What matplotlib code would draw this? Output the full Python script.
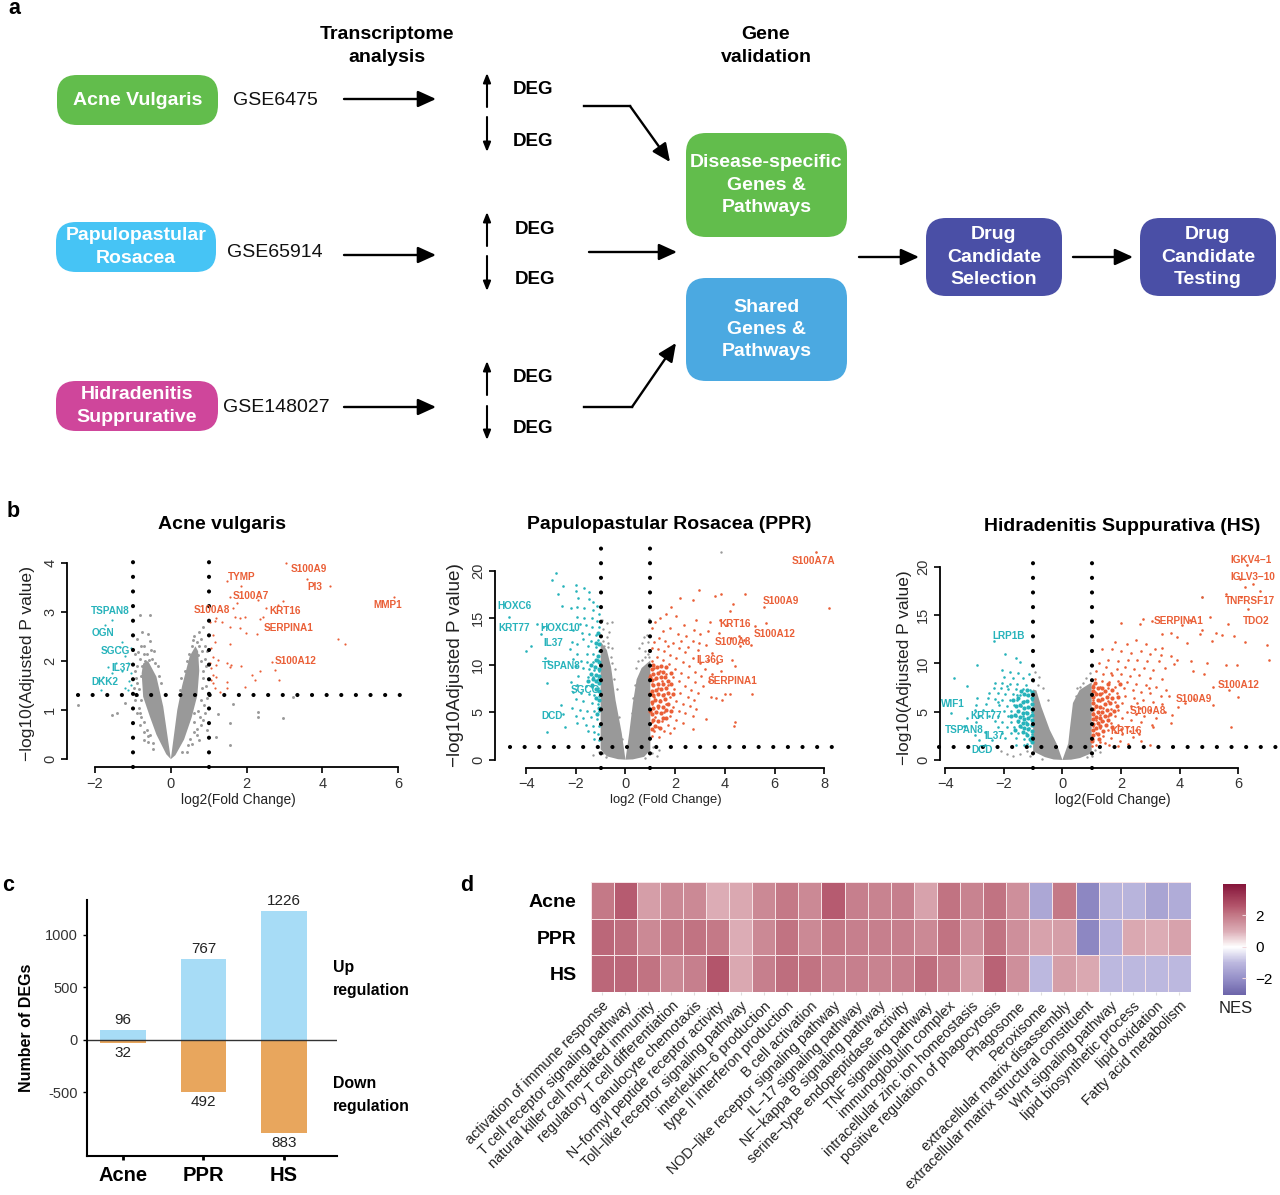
import matplotlib
matplotlib.use('Agg')
import matplotlib.pyplot as plt
import numpy as np
from matplotlib.colors import LinearSegmentedColormap, Normalize
from matplotlib.patches import FancyBboxPatch

plt.rcParams['font.family'] = ['Liberation Sans', 'DejaVu Sans']

W, H = 1280, 1195
RED = '#ea5f37'
CYAN = '#27b3bb'
GRAY = '#999999'

# ---- panel b data (log2FC, -log10 p)
acne_red = [(3.03, 4.0), (3.6, 3.67), (4.2, 3.52), (5.9, 3.31), (1.49, 3.62), (1.86, 3.53), (1.56, 3.31), (1.75, 3.18),
            (1.64, 3.07), (2.95, 3.22), (2.83, 3.14), (2.3, 3.24), (2.5, 3.07), (2.44, 2.89), (2.35, 2.85), (1.95, 2.89),
            (1.82, 2.87), (1.69, 2.89), (1.2, 2.87), (1.16, 2.82), (1.03, 2.8), (1.34, 2.8), (1.56, 2.7), (1.82, 2.67),
            (1.98, 2.58), (2.28, 2.56), (4.4, 2.44), (4.59, 2.35), (1.12, 2.53), (1.16, 2.39), (1.56, 2.35), (1.07, 2.26),
            (1.12, 2.09), (1.25, 2.02), (1.03, 1.95), (1.2, 1.92), (1.47, 1.95), (1.56, 1.88), (1.86, 1.9), (2.68, 1.97),
            (2.74, 1.82), (2.35, 1.8), (2.13, 1.71), (1.12, 1.71), (1.05, 1.61), (1.47, 1.58), (2.86, 1.61), (1.95, 1.48),
            (1.47, 1.44), (1.16, 1.44), (1.29, 1.37), (1.1, 1.55), (1.06, 1.85), (1.6, 1.92), (2.22, 1.62), (1.18, 1.68)]
acne_cyan = [(-1.56, 2.84), (-1.74, 2.73), (-1.28, 2.39), (-1.35, 2.29), (-1.04, 2.26), (-1.65, 1.88), (-1.45, 1.95),
             (-1.13, 1.95), (-1.79, 1.68), (-1.04, 1.75), (-1.21, 1.44), (-1.12, 1.4), (-1.83, 1.41), (-1.04, 1.51),
             (-1.1, 1.6), (-1.3, 1.8), (-1.55, 1.75), (-1.2, 2.1)]
acne_gray = [(2.3, 0.97), (2.3, 0.86), (2.96, 0.83), (1.64, 1.12), (1.25, 0.93), (1.56, 0.73), (1.2, 0.46), (1.56, 0.29),
             (3.23, 1.27), (-2.44, 1.1), (-1.56, 0.9), (-1.42, 0.95), (-1.2, 1.15), (-0.82, 2.94), (-0.55, 2.94),
             (-0.75, 2.6), (-0.6, 2.55), (-0.9, 2.45), (-0.8, 2.3), (-0.55, 2.4), (-0.45, 2.2), (-0.95, 2.15), (-0.7, 2.15),
             (-0.5, 2.05), (-0.95, 1.8), (-0.88, 1.55), (-0.95, 1.2), (-0.9, 0.95), (-0.82, 0.7), (-0.7, 0.55), (-0.6, 0.35),
             (-0.85, 1.05), (-0.72, 0.4), (-0.48, 0.2), (0.75, 2.6), (0.62, 2.5), (0.85, 2.7), (0.8, 2.45), (0.9, 2.3),
             (0.55, 2.3), (0.9, 2.05), (0.85, 1.8), (0.92, 1.5), (0.95, 1.25), (0.9, 0.95), (0.8, 0.7), (0.68, 0.5), (0.55, 0.3),
             (0.75, 0.4), (0.95, 0.6), (0.42, 0.15), (-0.35, 1.9), (-0.25, 1.55), (0.42, 2.0), (0.28, 1.65), (0.62, 0.95),
             (-0.82, 2.05), (-0.88, 1.9), (-0.8, 1.7), (-0.92, 1.65), (-0.84, 1.42), (-0.78, 1.2), (-0.9, 1.3), (-0.82, 0.95),
             (-0.72, 0.75), (-0.64, 0.6), (-0.55, 0.5), (-0.8, 0.85), (-0.62, 2.15), (-0.52, 2.22), (-0.72, 2.3), (-0.86, 2.18),
             (-0.68, 2.0), (-0.58, 2.02), (-0.98, 1.45), (-0.75, 1.9), (-0.42, 1.95), (-0.3, 1.7), (-0.48, 0.32), (-0.6, 0.48),
             (0.82, 2.2), (0.75, 2.3), (0.68, 2.38), (0.58, 2.42), (0.8, 2.0), (0.72, 2.12), (0.86, 1.65), (0.82, 1.45), (0.8, 1.2),
             (0.88, 1.1), (0.72, 0.98), (0.78, 0.85), (0.62, 0.75), (0.6, 0.55), (0.5, 0.42), (0.85, 0.8), (0.92, 1.9), (0.96, 2.2),
             (0.7, 0.62), (0.48, 2.15), (0.38, 1.8), (0.25, 1.4), (0.45, 0.28), (0.3, 0.15)]
acne_left_x = [0, -0.2, -0.38, -0.6, -0.73, -0.77, -0.73, -0.55, -0.38, -0.12]
acne_left_y = [0, 1.07, 1.68, 2.0, 1.95, 1.75, 1.27, 0.86, 0.5, 0.1]
acne_right_x = [0, 0.17, 0.3, 0.5, 0.65, 0.72, 0.75, 0.7, 0.55, 0.35, 0.12]
acne_right_y = [0, 1.0, 1.5, 2.1, 2.3, 2.2, 1.8, 1.3, 0.85, 0.4, 0.08]
acne_labels_red = [('S100A9', 3.63, 3.88), ('TYMP', 1.86, 3.71), ('PI3', 3.8, 3.5), ('S100A7', 2.1, 3.33), ('MMP1', 5.71, 3.14),
                   ('S100A8', 1.08, 3.03), ('KRT16', 3.01, 3.01), ('SERPINA1', 3.12, 2.68), ('S100A12', 3.29, 2.0)]
acne_labels_cyan = [('TSPAN8', -1.6, 3.01), ('OGN', -1.8, 2.58), ('SGCG', -1.45, 2.2), ('IL37', -1.3, 1.85), ('DKK2', -1.74, 1.58)]

ppr_red = [(7.68, 22), (8.18, 16), (5.56, 16.2), (5.67, 14.5), (5.2, 14.1), (4.33, 16.5), (4.8, 17.5), (3.83, 17.5),
           (3.59, 17.3), (2.96, 18), (2.72, 16.9), (2.2, 17.1), (4.2, 15.7), (3.8, 14.8), (3.4, 14.6), (2.85, 14.8),
           (4.1, 14.2), (4.55, 13.1), (5.05, 12.1), (4.25, 12.9), (3.75, 13.4), (3.3, 13.6), (3.0, 13.3), (2.75, 13.7),
           (2.35, 14.3), (2.05, 15.2), (1.85, 16.2), (1.65, 15.4), (1.4, 15.0), (1.2, 14.6), (1.05, 13.9), (1.5, 13.6),
           (1.8, 13.9), (2.1, 13.3), (2.45, 13.1), (2.7, 12.6), (2.95, 12.3), (3.25, 12.1), (3.5, 11.3), (4.3, 10.5),
           (4.4, 9.9), (3.85, 9.4), (3.5, 9.1), (3.2, 9.6), (3.0, 10.2), (2.7, 10.8), (2.4, 11.4), (2.15, 11.8), (1.9, 12.3),
           (1.6, 12.6), (1.35, 12.9), (1.15, 12.5), (1.05, 11.8), (1.3, 11.7), (1.55, 11.5), (1.8, 11.1), (2.05, 10.8),
           (2.3, 10.3), (2.55, 9.9), (2.8, 9.3), (3.05, 8.9), (3.35, 8.3), (2.8, 8.2), (2.5, 8.8), (2.25, 9.2), (2.0, 9.6),
           (1.75, 10.1), (1.5, 10.6), (1.25, 10.9), (1.05, 10.4), (1.15, 9.7), (1.4, 9.4), (1.65, 9.1), (1.9, 8.7),
           (2.15, 8.3), (2.4, 7.8), (2.65, 7.4), (2.9, 7.1), (2.75, 6.3), (2.5, 6.6), (2.2, 7.1), (1.95, 7.5), (1.7, 7.9),
           (1.45, 8.3), (1.2, 8.5), (1.05, 8.0), (1.3, 7.6), (1.55, 7.0), (1.8, 6.6), (2.05, 6.2), (2.3, 5.9), (2.6, 5.7),
           (2.85, 5.4), (2.7, 4.6), (2.4, 4.9), (2.15, 5.2), (1.9, 5.6), (1.65, 5.9), (1.4, 6.3), (1.15, 6.6), (1.05, 5.9),
           (1.3, 5.5), (1.55, 5.0), (1.8, 4.6), (2.05, 4.2), (2.3, 3.9), (1.95, 3.4), (1.7, 3.7), (1.45, 4.1), (1.2, 4.5),
           (1.05, 4.0), (1.3, 3.5), (1.55, 3.0), (1.8, 2.8), (1.15, 3.0), (1.05, 2.5), (1.35, 2.4), (2.7, 3.2), (3.25, 4.3),
           (4.35, 3.6), (4.4, 3.95), (5.1, 7.0), (4.2, 6.9), (4.0, 6.9), (3.9, 6.3), (3.65, 6.5), (3.45, 6.6), (3.1, 7.8),
           (2.5, 11.9), (2.9, 11.6), (3.3, 10.6), (3.7, 10.2), (1.0, 9.0), (1.7, 12.0), (2.25, 12.6), (4.6, 12.0), (4.75, 12.7)]
ppr_red_core = [(1.05, 3.2), (1.2, 3.6), (1.4, 3.3), (1.1, 4.2), (1.3, 4.1), (1.5, 4.4), (1.05, 4.8), (1.22, 5.0), (1.42, 4.9), (1.62, 5.3),
                (1.1, 5.5), (1.3, 5.7), (1.5, 5.6), (1.72, 5.9), (1.05, 6.1), (1.2, 6.3), (1.4, 6.2), (1.6, 6.4), (1.1, 6.8), (1.3, 6.9),
                (1.5, 6.8), (1.7, 7.1), (1.05, 7.3), (1.22, 7.4), (1.42, 7.5), (1.62, 7.6), (1.12, 7.9), (1.3, 8.0), (1.5, 8.0), (1.72, 8.3),
                (1.05, 8.4), (1.22, 8.6), (1.42, 8.7), (1.6, 8.8), (1.12, 9.1), (1.32, 9.2), (1.52, 9.3), (1.05, 9.6), (1.25, 9.8), (1.42, 9.9),
                (1.1, 10.0), (1.65, 9.8), (1.85, 9.2), (1.85, 8.0), (1.9, 6.9), (1.82, 5.2), (1.65, 4.4), (1.0, 5.2), (1.0, 7.0), (1.0, 8.8)]
ppr_cyan = [(-2.8, 19.8), (-2.95, 19.0), (-2.5, 18.4), (-2.0, 18.5), (-2.0, 17.9), (-1.65, 18.2), (-1.45, 17.7), (-2.7, 17.5),
            (-1.9, 17.1), (-1.45, 17.0), (-1.3, 16.7), (-1.15, 16.3), (-2.55, 16.3), (-2.2, 16.0), (-1.95, 16.2), (-1.65, 16.1),
            (-1.3, 15.8), (-1.05, 15.4), (-4.7, 15.1), (-1.95, 15.1), (-1.65, 15.0), (-1.35, 15.0), (-1.15, 14.7), (-3.55, 14.4),
            (-3.3, 14.0), (-1.85, 14.4), (-1.6, 14.2), (-1.35, 14.0), (-1.05, 14.0), (-3.4, 13.3), (-2.1, 13.7), (-1.75, 13.4),
            (-1.45, 13.3), (-1.2, 13.2), (-1.7, 12.8), (-1.4, 12.6), (-1.1, 12.7), (-2.15, 12.4), (-1.95, 12.2), (-1.5, 12.0),
            (-1.2, 11.9), (-3.8, 12.0), (-4.0, 11.5), (-2.25, 11.7), (-1.95, 11.2), (-1.55, 11.2), (-1.3, 11.2), (-1.05, 11.5),
            (-3.25, 10.8), (-3.1, 10.4), (-2.1, 10.7), (-1.8, 10.4), (-1.55, 10.3), (-1.3, 10.3), (-1.1, 10.5), (-2.0, 9.9),
            (-1.7, 9.7), (-1.45, 9.6), (-1.25, 9.5), (-1.05, 9.4), (-3.15, 8.1), (-1.9, 8.9), (-1.5, 8.8), (-1.3, 8.7), (-1.1, 8.5),
            (-2.2, 8.2), (-1.95, 7.9), (-1.6, 7.8), (-1.35, 7.7), (-1.1, 7.6), (-2.1, 7.2), (-1.8, 7.1), (-1.45, 6.9), (-1.25, 6.8),
            (-1.05, 6.7), (-2.6, 5.8), (-2.0, 6.4), (-1.7, 6.2), (-1.35, 6.0), (-1.1, 5.9), (-2.15, 5.5), (-1.85, 5.3), (-1.55, 5.2),
            (-1.25, 5.1), (-1.05, 5.2), (-2.5, 4.8), (-2.0, 4.6), (-1.7, 4.4), (-1.4, 4.5), (-1.15, 4.3), (-2.45, 3.5), (-3.15, 2.9),
            (-1.95, 3.9), (-1.6, 3.7), (-1.3, 3.6), (-1.05, 3.6), (-1.5, 3.0), (-1.25, 2.9), (-1.1, 2.7), (-1.25, 2.2), (-1.05, 2.1)]
ppr_cyan_core = [(-1.05, 7.3), (-1.2, 7.5), (-1.35, 7.9), (-1.05, 8.1), (-1.18, 8.3), (-1.32, 8.5), (-1.5, 8.3), (-1.05, 8.9), (-1.2, 9.0),
                 (-1.38, 9.1), (-1.08, 9.6), (-1.22, 9.8), (-1.4, 10.0), (-1.05, 10.3), (-1.2, 10.6), (-1.1, 11.0), (-1.05, 6.3), (-1.2, 6.5),
                 (-1.05, 5.5), (-1.15, 4.8), (-1.05, 12.2), (-1.18, 12.3), (-1.1, 13.4)]
ppr_gray = [(3.86, 22), (-0.95, 14.8), (-0.75, 14.5), (-0.9, 13.8), (-0.65, 13.5), (-0.55, 14.6), (-0.98, 13.1), (-0.75, 13.0),
            (-0.7, 12.3), (-0.9, 12.6), (0.75, 13.0), (0.85, 13.2), (0.65, 12.3), (0.95, 14.9), (0.9, 12.5), (0.55, 11.8),
            (0.78, 11.5), (0.92, 11.2), (-0.55, 11.8), (-0.6, 10.9), (-0.42, 9.6), (0.42, 9.7), (0.5, 10.4), (-1.05, 0.8),
            (-1.3, 0.5), (-0.8, 0.3), (1.05, 0.7), (1.25, 0.4), (1.35, 1.0), (0.8, 0.2), (-0.35, 7.5), (0.3, 6.5),
            (-0.85, 12.0), (-0.7, 11.9), (-0.95, 11.6), (0.8, 10.9), (0.65, 10.6), (0.95, 10.9), (-0.55, 10.2), (-0.48, 8.5),
            (0.38, 7.9), (0.28, 4.9), (-0.28, 4.5), (-0.15, 2.2), (0.14, 2.0), (-1.1, 1.3), (1.12, 1.3), (-0.9, 0.7)]
ppr_left_x = [0, -0.15, -0.4, -0.58, -0.75, -1, -1, -0.75, -0.3]
ppr_left_y = [0, 2.8, 6.3, 9.8, 11.6, 12.5, 1.1, 0.35, 0.05]
ppr_right_x = [0, 0.15, 0.3, 0.45, 0.65, 1, 1, 0.75, 0.3]
ppr_right_y = [0, 2.8, 6, 8.5, 9.7, 10.5, 1.0, 0.3, 0.03]
ppr_labels_red = [('S100A7A', 7.55, 21.06), ('S100A9', 6.26, 16.8), ('KRT16', 4.42, 14.4), ('S100A12', 6.0, 13.26),
                  ('S100A8', 4.34, 12.5), ('IL36G', 3.4, 10.5), ('SERPINA1', 4.29, 8.36)]
ppr_labels_cyan = [('HOXC6', -4.46, 16.3), ('KRT77', -4.46, 13.9), ('HOXC10', -2.64, 13.9), ('IL37', -2.9, 12.35),
                   ('TSPAN8', -2.57, 9.95), ('SGCG', -1.62, 7.34), ('DCD', -2.96, 4.62)]

hs_red = [(6.3, 20.2), (6.05, 18.7), (6.5, 18.2), (6.25, 17.9), (6.75, 17.5), (5.6, 17.2), (6.1, 16.9), (4.75, 16.9),
          (6.35, 15.6), (5.05, 14.8), (5.65, 14.1), (4.35, 14.5), (2.75, 14.6), (3.05, 14.4), (2.0, 14.2), (2.65, 14.1),
          (4.1, 14.0), (4.75, 13.5), (5.25, 13.1), (5.45, 12.9), (5.85, 12.8), (6.25, 12.2), (5.1, 12.3), (4.7, 13.0),
          (3.7, 13.1), (3.4, 13.0), (3.9, 12.7), (4.25, 12.1), (2.5, 12.4), (2.85, 12.0), (3.4, 11.6), (3.15, 11.5), (2.2, 12.0),
          (1.8, 12.2), (1.35, 11.5), (1.7, 11.5), (2.0, 11.3), (2.35, 11.1), (2.7, 11.3), (3.0, 11.0), (3.35, 10.9), (7.0, 11.9),
          (7.05, 10.4), (5.6, 9.8), (5.95, 9.8), (4.95, 10.0), (4.4, 10.2), (3.9, 10.4), (3.7, 10.8), (3.3, 10.2), (2.9, 10.2),
          (2.55, 10.4), (2.25, 10.3), (1.9, 10.2), (1.55, 10.4), (1.25, 10.0), (1.5, 9.6), (1.85, 9.4), (2.15, 9.6), (2.45, 9.4),
          (2.8, 9.5), (3.1, 9.3), (3.5, 9.5), (3.8, 9.9), (4.45, 9.2), (4.85, 8.9), (1.15, 9.2), (1.4, 8.9), (1.7, 8.8), (2.0, 8.9),
          (2.3, 8.7), (2.6, 8.8), (3.0, 8.5), (3.4, 8.4), (1.1, 8.4), (1.35, 8.2), (1.6, 8.1), (1.9, 8.2), (2.2, 8.1), (2.5, 7.9),
          (2.85, 7.8), (3.2, 7.6), (3.55, 7.2), (5.15, 7.6), (5.7, 7.2), (6.0, 6.5), (1.05, 7.8), (1.3, 7.6), (1.55, 7.5), (1.8, 7.6),
          (2.1, 7.4), (2.4, 7.2), (2.7, 7.0), (3.0, 6.9), (3.35, 6.6), (3.65, 6.6), (4.5, 6.3), (5.15, 5.7), (4.2, 5.9), (3.95, 5.5),
          (1.1, 7.0), (1.35, 6.9), (1.6, 6.8), (1.85, 6.9), (2.15, 6.6), (2.45, 6.4), (2.75, 6.2), (3.1, 6.0), (3.4, 5.8), (1.05, 6.2),
          (1.3, 6.1), (1.55, 6.1), (1.8, 6.0), (2.05, 5.9), (2.35, 5.6), (2.65, 5.4), (3.0, 5.2), (3.5, 5.0), (3.75, 4.7), (1.15, 5.5),
          (1.4, 5.4), (1.65, 5.3), (1.9, 5.2), (2.2, 5.0), (2.5, 4.8), (2.8, 4.5), (3.2, 4.3), (1.05, 4.9), (1.3, 4.7), (1.55, 4.6),
          (1.8, 4.5), (2.05, 4.3), (2.35, 4.1), (2.7, 3.9), (3.05, 3.6), (3.7, 3.8), (5.75, 3.4), (1.15, 4.1), (1.4, 4.0), (1.65, 3.8),
          (1.9, 3.6), (2.2, 3.4), (2.5, 3.1), (3.1, 3.4), (1.05, 3.5), (1.3, 3.3), (1.55, 3.1), (1.8, 2.9), (2.05, 2.7), (2.4, 2.4),
          (2.7, 2.0), (1.15, 2.8), (1.4, 2.5), (1.65, 2.3), (1.95, 2.0), (2.25, 1.7), (3.0, 1.6), (1.05, 2.2), (1.3, 1.9), (1.6, 1.6),
          (1.15, 1.5), (1.9, 1.45), (1.0, 1.4), (1.45, 1.75), (2.3, 3.0), (2.6, 2.7), (2.0, 3.2), (2.55, 5.9), (2.95, 7.4), (1.65, 9.0)]
hs_red_core = [(1.05, 2.6), (1.2, 2.7), (1.38, 3.0), (1.04, 3.1), (1.16, 3.3), (1.3, 3.5), (1.48, 3.6), (1.05, 3.7), (1.2, 3.8), (1.36, 4.0),
               (1.55, 4.1), (1.04, 4.2), (1.16, 4.4), (1.3, 4.3), (1.46, 4.6), (1.62, 4.8), (1.05, 4.8), (1.2, 5.0), (1.36, 5.0), (1.52, 5.2),
               (1.04, 5.3), (1.16, 5.6), (1.3, 5.5), (1.46, 5.8), (1.62, 5.9), (1.05, 5.9), (1.2, 6.2), (1.36, 6.3), (1.52, 6.5), (1.04, 6.5),
               (1.16, 6.8), (1.3, 6.8), (1.46, 7.1), (1.05, 7.1), (1.2, 7.4), (1.36, 7.5), (1.04, 7.6), (1.7, 6.4), (1.75, 5.1), (1.7, 7.2),
               (1.12, 8.0), (1.55, 7.9), (1.25, 2.2), (1.0, 2.0), (1.7, 3.4), (1.85, 5.6), (1.9, 6.5), (1.95, 7.9)]
hs_cyan = [(-2.33, 12.3), (-1.95, 11.0), (-1.6, 10.6), (-1.45, 10.1), (-2.9, 9.8), (-2.05, 9.3), (-1.8, 9.1), (-1.5, 9.0),
           (-1.15, 8.9), (-3.7, 8.5), (-2.0, 8.6), (-1.7, 8.5), (-1.35, 8.5), (-1.05, 8.3), (-3.25, 7.7), (-2.3, 8.0), (-2.05, 8.0),
           (-1.8, 7.9), (-1.55, 7.9), (-1.25, 7.8), (-2.35, 7.4), (-2.1, 7.4), (-1.85, 7.3), (-1.6, 7.3), (-1.35, 7.3), (-1.1, 7.2),
           (-2.5, 6.9), (-2.2, 6.9), (-1.95, 6.8), (-1.7, 6.8), (-1.45, 6.7), (-1.2, 6.7), (-2.9, 6.4), (-2.55, 6.4), (-2.3, 6.3),
           (-2.05, 6.2), (-1.8, 6.2), (-1.55, 6.2), (-1.3, 6.1), (-1.05, 6.2), (-2.95, 5.7), (-2.6, 5.8), (-2.15, 5.7), (-1.9, 5.6),
           (-1.65, 5.7), (-1.4, 5.6), (-1.15, 5.5), (-3.0, 5.2), (-2.7, 5.2), (-2.4, 5.2), (-2.0, 5.1), (-1.75, 5.1), (-1.5, 5.1),
           (-1.25, 5.0), (-1.05, 5.0), (-3.8, 4.9), (-3.25, 4.3), (-2.85, 4.5), (-2.5, 4.6), (-2.2, 4.6), (-1.85, 4.5), (-1.6, 4.5),
           (-1.35, 4.5), (-1.1, 4.5), (-2.95, 3.9), (-2.3, 4.0), (-2.05, 3.9), (-1.75, 3.9), (-1.5, 3.9), (-1.25, 3.9), (-1.05, 3.8),
           (-3.35, 3.5), (-2.2, 3.4), (-1.9, 3.4), (-1.65, 3.4), (-1.4, 3.4), (-1.15, 3.3), (-3.0, 2.6), (-2.65, 2.9), (-2.05, 2.8),
           (-1.75, 2.8), (-1.5, 2.8), (-1.25, 2.8), (-1.05, 2.7), (-2.85, 2.1), (-2.4, 2.1), (-1.95, 2.3), (-1.6, 2.3), (-1.3, 2.2),
           (-1.1, 2.1), (-2.65, 1.5), (-1.6, 1.6), (-1.3, 1.5), (-1.1, 1.4), (-1.2, 1.7), (-2.2, 6.0), (-1.55, 6.7), (-1.9, 7.7)]
hs_cyan_core = [(-1.05, 2.4), (-1.2, 2.6), (-1.36, 2.9), (-1.04, 3.0), (-1.16, 3.2), (-1.3, 3.3), (-1.46, 3.5), (-1.05, 3.6), (-1.2, 3.7),
                (-1.36, 3.8), (-1.52, 4.0), (-1.04, 4.1), (-1.16, 4.3), (-1.3, 4.2), (-1.46, 4.4), (-1.62, 4.7), (-1.05, 4.7), (-1.2, 4.9),
                (-1.36, 4.9), (-1.52, 5.1), (-1.04, 5.3), (-1.16, 5.5), (-1.3, 5.4), (-1.46, 5.7), (-1.6, 5.6), (-1.05, 5.8), (-1.2, 6.1),
                (-1.36, 6.0), (-1.52, 6.4), (-1.04, 6.4), (-1.16, 6.7), (-1.3, 6.8), (-1.05, 7.0), (-1.2, 7.2), (-1.42, 7.1), (-1.7, 6.2),
                (-1.75, 4.6), (-1.62, 3.1), (-1.12, 2.2), (-1.04, 1.9)]
hs_gray = [(4.75, 16.9), (-1.0, 8.2), (-0.85, 7.8), (-0.65, 7.5), (-0.95, 9.1), (-0.8, 8.6), (0.95, 9.0), (0.8, 8.5), (0.7, 8.0),
           (-1.2, 0.9), (-1.45, 0.6), (-1.7, 0.4), (-1.1, 0.4), (1.1, 1.0), (1.3, 0.8), (1.0, 0.4), (0.85, 0.3), (-0.7, 0.15),
           (-2.1, 0.9), (-1.9, 0.6), (0.5, 7.4), (0.6, 7.6), (-0.5, 6.2), (0.45, 6.6)]
hs_left_x = [0, -0.2, -0.43, -0.72, -0.89, -1, -1, -0.6, -0.3]
hs_left_y = [0, 1.7, 3.1, 5.5, 7.2, 7.3, 0.9, 0.3, 0.05]
hs_right_x = [0, 0.2, 0.25, 0.36, 0.59, 0.93, 1, 1, 0.6, 0.3]
hs_right_y = [0, 1.7, 3.1, 5.9, 7.25, 7.9, 8, 0.7, 0.2, 0.03]
hs_labels_red = [('IGKV4\u22121', 6.43, 20.7), ('IGLV3\u221210', 6.49, 18.96), ('TNFRSF17', 6.42, 16.5), ('TDO2', 6.6, 14.37),
                 ('SERPINA1', 3.95, 14.37), ('S100A12', 6.03, 7.77), ('S100A9', 4.48, 6.36), ('S100A8', 2.93, 5.11), ('KRT16', 2.19, 3.04)]
hs_labels_cyan = [('LRP1B', -1.85, 12.8), ('WIF1', -3.74, 5.8), ('KRT77', -2.6, 4.6), ('TSPAN8', -3.34, 3.14), ('IL37', -2.33, 2.49), ('DCD', -2.73, 1.04)]

# ---- panel c data
deg_groups = ['Acne', 'PPR', 'HS']
deg_up = [96, 767, 1226]
deg_down = [32, 492, 883]

# ---- panel d data
heat_rows = ['Acne', 'PPR', 'HS']
pathways = ['activation of immune response', 'T cell receptor signaling pathway', 'natural killer cell mediated immunity',
            'regulatory T cell differentiation', 'granulocyte chemotaxis', 'N\u2212formyl peptide receptor activity',
            'Toll\u2212like receptor signaling pathway', 'interleukin\u22126 production', 'type II interferon production',
            'B cell activation', 'NOD\u2212like receptor signaling pathway', 'IL\u221217 signaling pathway',
            'NF\u2212kappa B signaling pathway', 'serine\u2212type endopeptidase activity', 'TNF signaling pathway',
            'immunoglobulin complex', 'intracellular zinc ion homeostasis', 'positive regulation of phagocytosis',
            'Phagosome', 'Peroxisome', 'extracellular matrix disassembly', 'extracellular matrix structural constituent',
            'Wnt signaling pathway', 'lipid biosynthetic process', 'lipid oxidation', 'Fatty acid metabolism']
nes_acne = [2.0, 2.5, 1.3, 1.7, 1.7, 1.0, 1.1, 1.7, 2.0, 1.7, 2.5, 1.9, 1.8, 1.9, 1.2, 2.1, 1.8, 2.1, 1.6, -1.4, 2.0, -2.2, -1.1, -1.1, -1.5, -1.3]
nes_ppr = [2.3, 2.2, 1.7, 2.0, 2.1, 2.0, 1.0, 1.7, 2.1, 1.7, 2.0, 1.9, 1.9, 1.9, 1.7, 2.1, 1.6, 2.1, 1.6, 1.2, 1.3, -2.2, -1.2, 1.1, 1.0, 1.2]
nes_hs = [2.3, 2.3, 2.1, 1.7, 1.9, 2.6, 1.1, 1.9, 2.2, 2.1, 1.9, 1.9, 1.8, 1.9, 2.2, 1.9, 1.3, 2.4, 1.6, -1.0, 1.3, 1.1, -1.0, -1.0, -1.0, -1.0]


def px_axes(left, top, right, bottom):
    return fig.add_axes([left / W, 1 - bottom / H, (right - left) / W, (bottom - top) / H])


def arrow(p0, p1, lw=1.7, head='head_width=0.5,head_length=1.1'):
    overlay.annotate('', xy=p1, xytext=p0, arrowprops=dict(arrowstyle='-|>,' + head, color='black',
                                                           lw=lw, shrinkA=0, shrinkB=0))


def box(left, top, right, bottom, color, txt, size=14, rad=20):
    overlay.add_patch(FancyBboxPatch((left + rad, top + rad), right - left - 2 * rad, bottom - top - 2 * rad,
                                     boxstyle=f'round,pad={rad},rounding_size={rad}', fc=color, ec='none'))
    overlay.text((left + right) / 2, (top + bottom) / 2, txt, color='white', fontsize=size, fontweight='bold',
                 ha='center', va='center', linespacing=1.42)


def volcano(rect, xlim, ylim, xticks, yticks, red, cyan, gray, left, right, labels_red, labels_cyan, hline,
            core_red=None, core_cyan=None, s_gray=3, s_col=3.5):
    ax = px_axes(*rect)
    ax.set_xlim(xlim)
    ax.set_ylim(ylim)
    ax.fill(left[0], left[1], color=GRAY, lw=0)
    ax.fill(right[0], right[1], color=GRAY, lw=0)
    ax.scatter(*np.array(gray).T, s=s_gray, color=GRAY, lw=0)
    ax.scatter(*np.array(red).T, s=s_col, color=RED, lw=0)
    ax.scatter(*np.array(cyan).T, s=s_col, color=CYAN, lw=0)
    if core_red:
        ax.scatter(*np.array(core_red).T, s=9, color=RED, lw=0)
        ax.scatter(*np.array(core_cyan).T, s=9, color=CYAN, lw=0)
    # threshold lines, R style fat dots
    dots = dict(color='black', lw=3, ls=(0, (0.01, 3.5)), dash_capstyle='round', clip_on=False)
    ax.plot([-1, -1], [ylim[0], ylim[1]], **dots)
    ax.plot([1, 1], [ylim[0], ylim[1]], **dots)
    ax.plot(hline, [1.3, 1.3], **dots)
    for name, x, y in labels_red:
        ax.text(x, y, name, color=RED, fontsize=7.2, fontweight='bold', ha='center', va='center')
    for name, x, y in labels_cyan:
        ax.text(x, y, name, color=CYAN, fontsize=7.2, fontweight='bold', ha='center', va='center')
    for s in ['top', 'right']:
        ax.spines[s].set_visible(False)
    ax.spines['left'].set_bounds(yticks[0], yticks[-1])
    ax.spines['bottom'].set_bounds(xticks[0], xticks[-1])
    ax.spines['left'].set_linewidth(1.3)
    ax.spines['bottom'].set_linewidth(1.3)
    ax.set_xticks(xticks, [str(t).replace('-', '\u2212') for t in xticks])
    ax.set_yticks(yticks, [str(t) for t in yticks])
    ax.tick_params(axis='both', labelsize=10.5, length=4, width=1.2, labelcolor='#333333', pad=3)
    for t in ax.get_yticklabels():
        t.set_rotation(90)
        t.set_va('center')
    ax.patch.set_alpha(0)
    return ax


fig = plt.figure(figsize=(W / 100, H / 100), dpi=100)

# full page axes in pixel coordinates for panel a and the free text
overlay = fig.add_axes([0, 0, 1, 1], zorder=5)
overlay.set_xlim(0, W)
overlay.set_ylim(H, 0)
overlay.axis('off')

for letter, x, y in [('a', 14, 8), ('b', 13, 511), ('c', 8, 885), ('d', 467, 885)]:
    overlay.text(x, y, letter, fontsize=15.5, fontweight='bold', ha='center', va='center')

overlay.text(387, 46, 'Transcriptome\nanalysis', fontsize=14, fontweight='bold', ha='center', va='center', linespacing=1.42)
overlay.text(766, 46, 'Gene\nvalidation', fontsize=14, fontweight='bold', ha='center', va='center', linespacing=1.42)

box(57, 75, 218, 125, '#62bd4c', 'Acne Vulgaris')
box(56, 222, 216, 272, '#46c4f5', 'Papulopastular\nRosacea')
box(56, 381, 218, 431, '#cf469b', 'Hidradenitis\nSupprurative')
box(686, 133, 847, 237, '#62bd4c', 'Disease-specific\nGenes &\nPathways')
box(686, 278, 847, 381, '#4ba9e1', 'Shared\nGenes &\nPathways')
box(926, 218, 1062, 296, '#4a4fa6', 'Drug\nCandidate\nSelection')
box(1140, 218, 1276, 296, '#4a4fa6', 'Drug\nCandidate\nTesting')

for txt, x, y in [('GSE6475', 275, 100), ('GSE65914', 275, 252), ('GSE148027', 276, 407)]:
    overlay.text(x, y, txt, fontsize=14, ha='center', va='center', color='#111111')
for x, y in [(533, 89), (533, 141), (535, 229), (535, 279), (533, 377), (533, 428)]:
    overlay.text(x, y, 'DEG', fontsize=13.5, fontweight='bold', ha='center', va='center')

for y in [99, 255, 407]:
    arrow((344, y), (436, y))
small_head = 'head_width=0.22,head_length=0.55'
for y0, y1 in [(107, 73), (117, 152), (246, 212), (256, 291), (395, 361), (406, 440)]:
    arrow((487, y0), (487, y1), lw=1.5, head=small_head)
overlay.plot([584, 630], [106, 106], color='black', lw=1.7)
arrow((630, 106), (670, 162))
arrow((589, 252), (677, 252))
overlay.plot([584, 632], [407, 407], color='black', lw=1.7)
arrow((632, 407), (676, 343))
arrow((859, 257), (919, 257))
arrow((1073, 257), (1133, 257))

# panel b
overlay.text(222, 524, 'Acne vulgaris', fontsize=14, fontweight='bold', ha='center', va='center')
overlay.text(669, 524, 'Papulopastular Rosacea (PPR)', fontsize=14, fontweight='bold', ha='center', va='center')
overlay.text(1122, 526, 'Hidradenitis Suppurativa (HS)', fontsize=14, fontweight='bold', ha='center', va='center')

volcano((67, 555, 405, 767), (-2.74, 6.18), (-0.16, 4.16), [-2, 0, 2, 4, 6], [0, 1, 2, 3, 4], acne_red, acne_cyan, acne_gray,
        (acne_left_x, acne_left_y), (acne_right_x, acne_right_y), acne_labels_red, acne_labels_cyan, [-2.45, 6.05],
        s_gray=4.5, s_col=2.5)
volcano((495, 548, 835, 767.7), (-5.25, 8.43), (-0.85, 22.4), [-4, -2, 0, 2, 4, 6, 8], [0, 5, 10, 15, 20], ppr_red, ppr_cyan, ppr_gray,
        (ppr_left_x, ppr_left_y), (ppr_right_x, ppr_right_y), ppr_labels_red, ppr_labels_cyan, [-4.65, 8.3],
        core_red=ppr_red_core, core_cyan=ppr_cyan_core)
volcano((940, 560, 1280, 767.7), (-4.18, 7.43), (-0.8, 20.7), [-4, -2, 0, 2, 4, 6], [0, 5, 10, 15, 20], hs_red, hs_cyan, hs_gray,
        (hs_left_x, hs_left_y), (hs_right_x, hs_right_y), hs_labels_red, hs_labels_cyan, [-4.2, 7.4],
        core_red=hs_red_core, core_cyan=hs_cyan_core)

for x, txt, fs in [(238, 'log2(Fold Change)', 9.9), (666, 'log2 (Fold Change)', 9.4), (1113, 'log2(Fold Change)', 10)]:
    overlay.text(x, 800, txt, fontsize=fs, ha='center', va='center', color='#222222')
for x, y, txt, fs in [(28, 663, '\u2212log10(Adjusted P value)', 12.6), (456, 665, '\u2212log10Adjusted P value)', 13.6),
                      (904, 668, '\u2212log10(Adjusted P value)', 12.5)]:
    overlay.text(x, y, txt, fontsize=fs, rotation=90, ha='center', va='center', color='#222222')

# panel c
ax_c = px_axes(87, 900, 336.7, 1156)
ax_c.set_xlim(-0.447, 2.655)
ax_c.set_ylim(-1105, 1333)
pos = np.arange(len(deg_groups))
ax_c.bar(pos, deg_up, width=0.56, color='#a7dcf6')
ax_c.bar(pos, [-d for d in deg_down], width=0.56, color='#e8a65d')
ax_c.axhline(0, color='#333333', lw=1)
for s in ['top', 'right']:
    ax_c.spines[s].set_visible(False)
for s in ['left', 'bottom']:
    ax_c.spines[s].set_linewidth(1.5)
ax_c.set_xticks(pos, deg_groups, fontsize=14.5, fontweight='bold')
ax_c.set_yticks([-500, 0, 500, 1000], ['-500', '0', '500', '1000'], fontsize=10.5, color='#333333')
ax_c.tick_params(axis='x', length=3, width=2, pad=4)
ax_c.tick_params(axis='y', length=3, width=1)
ax_c.set_ylabel('Number of DEGs', fontsize=11.5, fontweight='bold', labelpad=8)
for i in pos:
    ax_c.text(i, deg_up[i] + 30, str(deg_up[i]), fontsize=11, ha='center', va='bottom', color='#222222')
    ax_c.text(i, -deg_down[i] - 30, str(deg_down[i]), fontsize=11, ha='center', va='top', color='#222222')
for y, txt in [(979, 'Up\nregulation'), (1095, 'Down\nregulation')]:
    overlay.text(333, y, txt, fontsize=11.4, fontweight='bold', ha='left', va='center', linespacing=1.7)

# panel d
cmap = LinearSegmentedColormap.from_list('nes', [(0, '#6c64a9'), (0.12, '#8e88c3'), (0.29, '#bcb8df'), (0.4326, 'white'),
                                                 (0.574, '#dcadb6'), (0.716, '#c47a88'), (0.80, '#b4566c'), (1, '#85153a')])
norm = Normalize(-3.05, 4)
ax_d = px_axes(590.5, 882, 1191, 992)
nes = np.array([nes_acne, nes_ppr, nes_hs])
ax_d.pcolormesh(np.arange(len(pathways) + 1), np.arange(len(heat_rows) + 1), nes, cmap=cmap, norm=norm, edgecolors='#f6e3e6', linewidth=0.4)
ax_d.set_ylim(len(heat_rows), 0)
ax_d.set_xlim(0, len(pathways))
for s in ax_d.spines.values():
    s.set_visible(False)
ax_d.set_yticks(np.arange(len(heat_rows)) + 0.5, heat_rows, fontsize=14, fontweight='bold')
ax_d.set_xticks(np.arange(len(pathways)) + 0.5, pathways, fontsize=10.4, rotation=45, ha='right', rotation_mode='anchor', color='#222222')
ax_d.tick_params(axis='y', length=0, pad=10)
ax_d.tick_params(axis='x', length=2, color='#dddddd', pad=3)

ax_cb = px_axes(1223, 884, 1246, 995)
cb = fig.colorbar(plt.cm.ScalarMappable(norm=norm, cmap=cmap), cax=ax_cb)
cb.outline.set_visible(False)
cb.set_ticks([-2, 0, 2], labels=['\u22122', '0', '2'], fontsize=11)
cb.ax.tick_params(length=3, direction='in', color='#f2d8dd', pad=7)
overlay.text(1236, 1008, 'NES', fontsize=12, ha='center', va='center', color='#222222')

fig.savefig('out.png', dpi=100)
